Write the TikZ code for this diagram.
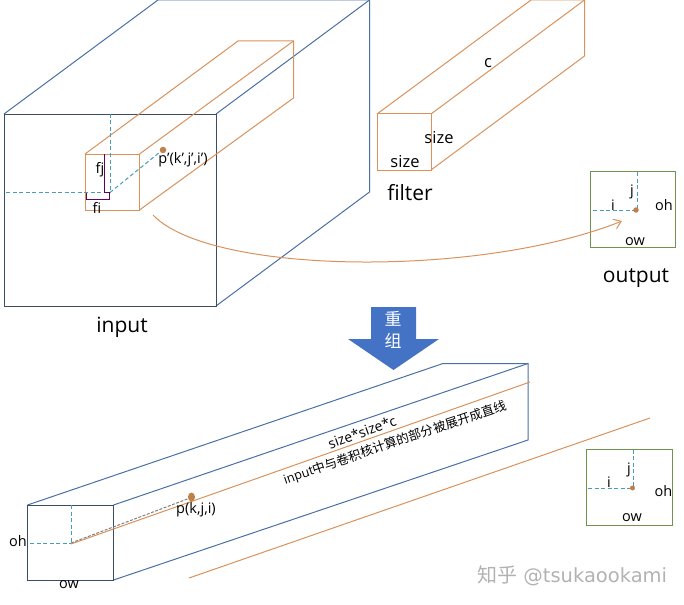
\documentclass[tikz,border=0pt]{standalone}
\usepackage{fontspec}
\usetikzlibrary{arrows.meta,shapes.geometric}
\setmainfont{Open Sans}
\newfontfamily\cjk{Noto Sans CJK SC}
\newfontfamily\wmfont{DejaVu Sans}
\definecolor{bluebox}{HTML}{4A6FA5}
\definecolor{darkbox}{HTML}{3B4C66}
\definecolor{orangebox}{HTML}{D9925C}
\definecolor{greenbox}{HTML}{70934F}
\definecolor{dashblue}{HTML}{4A9DB8}
\definecolor{dotbrown}{HTML}{C0804A}
\definecolor{arrowblue}{HTML}{4472C4}
\tikzset{
  bluebox/.style={draw=bluebox,line width=1pt},
  frontbox/.style={draw=darkbox,line width=0.9pt},
  orangebox/.style={draw=orangebox,line width=1pt},
  greenbox/.style={draw=greenbox,line width=1.2pt},
  guide/.style={draw=dashblue,dashed,dash pattern=on 4pt off 2.5pt,line width=1pt},
  pointdot/.style={fill=dotbrown,draw=none,circle,inner sep=0pt,minimum size=6.5pt},
  small/.style={font=\fontsize{14.5}{15}\selectfont,inner sep=0pt},
  mid/.style={font=\fontsize{16.5}{17}\selectfont,inner sep=0pt},
  big/.style={font=\fontsize{21}{21}\selectfont,inner sep=0pt},
}
\begin{document}
\begin{tikzpicture}[x=1pt,y=-1pt]
  \useasboundingbox (0,0) rectangle (684,604);

  \draw[bluebox] (4,114) -- (158,0) -- (369.5,0) -- (369.5,192) -- (216,306);
  \draw[bluebox] (216,114) -- (369.5,0);
  \draw[frontbox] (4,114) rectangle (216,306);
  \node[big] (inputlabel) at (122,327) {input};

  \draw[orangebox] (85,154) rectangle (139.5,210);
  \draw[orangebox] (85,154) -- (238,41) -- (293.5,41) -- (293.5,98) -- (139.5,210);
  \draw[orangebox] (139.5,154) -- (293.5,41);
  \draw[guide] (6,192.5) -- (110,192.5);
  \draw[guide] (110,114) -- (110,192.5);
  \draw[guide] (110,192.5) -- (160,152);
  \draw[draw=violet!75!black,line width=1pt] (104.5,154) -- (104.5,192.5) -- (109.5,192.5) -- (109.5,199) -- (86.5,199) -- (86.5,192.5);
  \node[pointdot] (pprime) at (163,150) {};
  \node[small] (pprimelabel) at (183,160) {p'(k',j',i')};
  \node[small] (fjlabel) at (100,170) {fj};
  \node[small] (filabel) at (97,208) {fi};

  \draw[orangebox] (377,114) rectangle (431,170);
  \draw[orangebox] (377,114) -- (531,0) -- (584.5,0) -- (584.5,56) -- (431,170);
  \draw[orangebox] (431,114) -- (584.5,0);
  \node[mid] (clabel) at (488,63) {c};
  \node[mid] (sizea) at (439,138) {size};
  \node[mid] (sizeb) at (405,162) {size};
  \node[big] (filterlabel) at (410,193) {filter};

  \draw[greenbox] (590.5,171.5) rectangle (675.5,247.5);
  \draw[guide] (593,210.5) -- (634,210.5);
  \draw[guide] (637.5,172) -- (637.5,208);
  \node[pointdot,minimum size=5.5pt] (outdot) at (636,210) {};
  \node[small] (jout) at (632,192) {j};
  \node[small] (iout) at (613,205) {i};
  \node[small] (ohout) at (664,205) {oh};
  \node[small] (owout) at (635,242) {ow};
  \node[big] (outputlabel) at (636,278) {output};

  \draw[orangebox,-{Straight Barb[length=7pt,width=10pt]}] (153,215) .. controls (210,275) and (480,278) .. (622,221);

  \fill[arrowblue] (371,307) -- (416,307) -- (416,339) -- (439,339) -- (393.5,370) -- (348,339) -- (371,339) -- cycle;
  \node[inner sep=0pt,text=white,font=\cjk\fontsize{17}{17}\selectfont] (chonga) at (393,319) {重};
  \node[inner sep=0pt,text=white,font=\cjk\fontsize{17}{17}\selectfont] (chongb) at (393,341) {组};

  \draw[bluebox] (27.5,505) -- (443,363.5) -- (528,363.5) -- (528,440) -- (113.5,580);
  \draw[bluebox] (113.5,505) -- (528,363.5);
  \draw[frontbox] (27.5,505) rectangle (113.5,580);
  \draw[orangebox] (71,544) -- (530,382);
  \draw[orangebox] (189,578) -- (650,418);
  \draw[guide] (30,543.5) -- (71,543.5);
  \draw[guide] (71,505) -- (71,543.5);
  \draw[draw=gray,dashed,dash pattern=on 3pt off 1.5pt,line width=1pt] (71,543) -- (190,498);
  \node[pointdot,ellipse,minimum width=7pt,minimum height=9pt] (pdot) at (191.5,497) {};
  \node[small] (plabel) at (196,510) {p(k,j,i)};
  \node[small] (ohbox) at (18,541) {oh};
  \node[small] (owbox) at (69,585) {ow};
  \node[small,font=\fontsize{14}{14}\selectfont,rotate=20] (sizelabel) at (362,432) {size*size*c};
  \node[small,font=\fontsize{12.7}{13}\selectfont,rotate=18.7] (rowlabel) at (395,443) {input{\cjk 中与卷积核计算的部分被展开成直线}};

  \draw[greenbox] (586.5,449.5) rectangle (672.5,525.5);
  \draw[guide] (588,488.5) -- (630,488.5);
  \draw[guide] (633.5,449.5) -- (633.5,486);
  \node[pointdot,minimum size=5pt] (outdotb) at (632.5,488) {};
  \node[small] (joutb) at (629,470) {j};
  \node[small] (ioutb) at (609,482) {i};
  \node[small] (ohoutb) at (663.5,491) {oh};
  \node[small] (owoutb) at (632,518) {ow};

  \node[anchor=west,inner sep=0pt,text=black!30,font=\wmfont\fontsize{19.5}{20}\selectfont] (mark) at (477,576) {{\cjk\fontsize{20}{20}\selectfont 知乎} @tsukaookami};
\end{tikzpicture}
\end{document}
